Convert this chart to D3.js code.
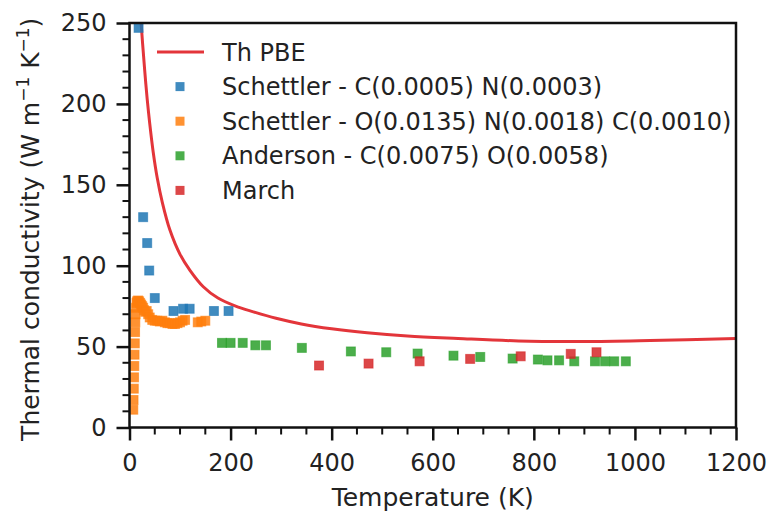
<!DOCTYPE html>
<html lang="en">
<head>
  <meta charset="UTF-8" />
  <title>Thermal conductivity</title>
  <style>
    body { margin: 0; background: white; }
    svg { display: block; font-family: "DejaVu Sans", sans-serif; }
    .tick text { font-size: 24px; fill: #222; }
    .legend text { font-size: 24px; fill: #222; }
  </style>
</head>
<body>
  <svg width="767" height="515"></svg>
  <script src="https://cdn.jsdelivr.net/npm/d3@7"></script>
  <script>
    // Th PBE calculated curve (T in K, kappa)
    const pbeT = [18, 20, 23, 26, 30, 35, 40, 47, 55, 65, 80, 100, 120, 146, 175, 210, 245, 290, 340, 400, 470, 550, 650, 770, 900, 1030, 1200];
    const pbeK = [274, 264, 250, 237, 221, 203, 188, 170, 154, 139, 122, 107, 97, 87, 80, 75, 71.5, 67.5, 64, 61, 58.5, 56.5, 55, 53.5, 53.2, 53.8, 55];

    const schettler1T = [18, 27, 35, 39, 50, 87, 106, 119, 167, 196];
    const schettler1K = [247, 130, 114, 97, 80, 72, 73.4, 73.4, 72, 72];

    const schettler2T = [7.5, 8, 8.5, 9, 9.5, 10, 10.5, 11, 11.5, 12, 13, 14, 15, 17, 19, 21, 23, 25, 27, 29, 31, 34, 37, 40, 45, 50, 55, 60, 65, 70, 75, 80, 85, 90, 95, 100, 105, 110, 135, 142, 150];
    const schettler2K = [11, 17, 24, 31, 38, 45, 52, 59, 65, 70, 74, 77, 78, 78.5, 78, 77, 76, 75, 74, 72.5, 71.5, 72, 70, 68, 66.5, 66, 66, 65.5, 66, 65, 64.5, 64.5, 64, 64, 64.5, 65, 66, 66.5, 65, 65.5, 66];

    const andersonT = [183, 200, 224, 249, 270, 341, 438, 508, 570, 641, 694, 758, 808, 827, 850, 880, 921, 941, 959, 982];
    const andersonK = [52.3, 52.3, 52.3, 50.8, 50.8, 49.2, 47, 46.5, 45.7, 44.4, 43.6, 42.6, 42, 41.5, 41.5, 40.9, 40.9, 40.9, 40.9, 40.9];

    const marchT = [375, 473, 574, 674, 774, 873, 924];
    const marchK = [38.3, 39.5, 40.9, 42.4, 44, 45.5, 46.5];

    const xTicks = [0, 200, 400, 600, 800, 1000, 1200];
    const yTicks = [0, 50, 100, 150, 200, 250];

    const scatterSeries = [
      { name: "Schettler - C(0.0005) N(0.0003)", color: "#1f77b4", T: schettler1T, K: schettler1K },
      { name: "Schettler - O(0.0135) N(0.0018) C(0.0010)", color: "#ff7f0e", T: schettler2T, K: schettler2K },
      { name: "Anderson - C(0.0075) O(0.0058)", color: "#2ca02c", T: andersonT, K: andersonK },
      { name: "March", color: "#d62728", T: marchT, K: marchK }
    ];

    const margin = { left: 129.5, right: 31, top: 23, bottom: 87.5 };
    const width = 767, height = 515;
    const svg = d3.select("svg");

    const x = d3.scaleLinear().domain([0, 1200]).range([margin.left, width - margin.right]);
    const y = d3.scaleLinear().domain([0, 250]).range([height - margin.bottom, margin.top]);

    svg.append("defs").append("clipPath").attr("id", "clip")
      .append("rect")
      .attr("x", x(0)).attr("y", y(250))
      .attr("width", x(1200) - x(0)).attr("height", y(0) - y(250));

    const plot = svg.append("g").attr("clip-path", "url(#clip)");

    const line = d3.line().x(d => x(d[0])).y(d => y(d[1])).curve(d3.curveCatmullRom);
    plot.append("path")
      .datum(d3.zip(pbeT, pbeK))
      .attr("fill", "none")
      .attr("stroke", "#e3353a")
      .attr("stroke-width", 3)
      .attr("d", line);

    const ms = 9;
    scatterSeries.forEach(s => {
      plot.append("g")
        .selectAll("rect")
        .data(d3.zip(s.T, s.K))
        .join("rect")
          .attr("x", d => x(d[0]) - ms / 2)
          .attr("y", d => y(d[1]) - ms / 2)
          .attr("width", ms)
          .attr("height", ms)
          .attr("fill", s.color)
          .attr("fill-opacity", 0.85)
          .attr("stroke", s.color)
          .attr("stroke-opacity", 0.6)
          .attr("stroke-width", 1);
    });

    // minor ticks
    const xMinor = d3.range(0, 1201, 50).filter(v => v % 200 !== 0);
    const yMinor = d3.range(0, 251, 10).filter(v => v % 50 !== 0);

    const axisG = svg.append("g");
    axisG.selectAll(".xminor").data(xMinor).join("line")
      .attr("x1", d => x(d)).attr("x2", d => x(d))
      .attr("y1", y(0)).attr("y2", y(0) + 7)
      .attr("stroke", "#111").attr("stroke-width", 2);
    axisG.selectAll(".yminor").data(yMinor).join("line")
      .attr("y1", d => y(d)).attr("y2", d => y(d))
      .attr("x1", x(0)).attr("x2", x(0) - 7)
      .attr("stroke", "#111").attr("stroke-width", 2);

    const xAxis = svg.append("g")
      .attr("transform", `translate(0,${y(0)})`)
      .call(d3.axisBottom(x).tickValues(xTicks).tickFormat(d3.format("d")).tickSize(13).tickPadding(13));
    const yAxis = svg.append("g")
      .attr("transform", `translate(${x(0)},0)`)
      .call(d3.axisLeft(y).tickValues(yTicks).tickFormat(d3.format("d")).tickSize(13).tickPadding(10));
    [xAxis, yAxis].forEach(g => {
      g.select(".domain").remove();
      g.selectAll(".tick line").attr("stroke", "#111").attr("stroke-width", 2.5);
      g.attr("font-family", null).attr("font-size", null);
    });

    // frame
    svg.append("rect")
      .attr("x", x(0)).attr("y", y(250))
      .attr("width", x(1200) - x(0)).attr("height", y(0) - y(250))
      .attr("fill", "none").attr("stroke", "#111").attr("stroke-width", 2.5);

    // axis titles
    svg.append("text")
      .attr("x", (x(0) + x(1200)) / 2)
      .attr("y", 506)
      .attr("text-anchor", "middle")
      .attr("font-size", 25)
      .attr("fill", "#222")
      .text("Temperature (K)");

    const yt = svg.append("text")
      .attr("transform", `translate(39,${(y(0) + y(250)) / 2 + 4}) rotate(-90)`)
      .attr("text-anchor", "middle")
      .attr("font-size", 25)
      .attr("fill", "#222");
    yt.append("tspan").text("Thermal conductivity (W m");
    yt.append("tspan").attr("font-size", 17).attr("dy", -10).text("\u22121");
    yt.append("tspan").attr("dy", 10).text(" K");
    yt.append("tspan").attr("font-size", 17).attr("dy", -10).text("\u22121");
    yt.append("tspan").attr("dy", 10).text(")");

    // legend
    const legend = svg.append("g").attr("class", "legend");
    const rowY = i => 52 + i * 34.6;
    legend.append("line")
      .attr("x1", 157).attr("x2", 204)
      .attr("y1", rowY(0)).attr("y2", rowY(0))
      .attr("stroke", "#e3353a").attr("stroke-width", 3);
    legend.append("text").attr("x", 222).attr("y", rowY(0)).attr("dy", "0.36em").text("Th PBE");
    scatterSeries.forEach((s, i) => {
      legend.append("rect")
        .attr("x", 180 - ms / 2).attr("y", rowY(i + 1) - ms / 2)
        .attr("width", ms).attr("height", ms)
        .attr("fill", s.color).attr("fill-opacity", 0.85);
      legend.append("text").attr("x", 222).attr("y", rowY(i + 1)).attr("dy", "0.36em").text(s.name);
    });
  </script>
</body>
</html>
